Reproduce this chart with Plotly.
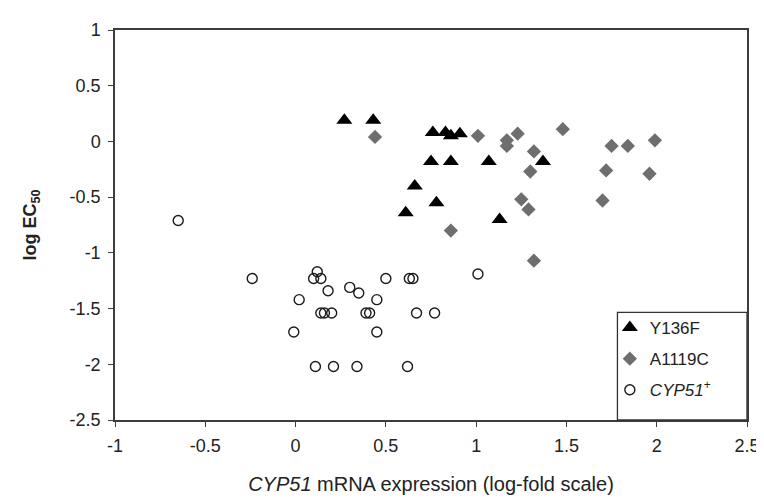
import plotly.graph_objects as go

# Y136F (black triangles)
y136f_x = [0.27, 0.43, 0.76, 0.83, 0.86, 0.91, 0.75, 0.86, 1.07, 1.37, 0.66, 0.78, 0.61, 1.13]
y136f_y = [0.19, 0.19, 0.08, 0.08, 0.05, 0.07, -0.18, -0.18, -0.18, -0.18, -0.40, -0.55, -0.64, -0.70]

# A1119C (grey diamonds)
a1119c_x = [0.44, 1.01, 1.17, 1.17, 1.23, 1.48, 1.32, 1.30, 1.75, 1.84, 1.99, 1.72, 1.96, 1.25, 1.29, 1.70, 0.86, 1.32]
a1119c_y = [0.04, 0.05, 0.01, -0.04, 0.07, 0.11, -0.09, -0.27, -0.04, -0.04, 0.01, -0.26, -0.29, -0.52, -0.61, -0.53, -0.80, -1.07]

# CYP51+ (open circles)
cyp_x = [-0.65, -0.24, 0.12, 0.10, 0.14, 0.18, 0.02, 0.30, 0.35, 0.50, 0.63, 0.65, 1.01, 0.45,
         0.14, 0.16, 0.20, 0.39, 0.41, 0.67, 0.77, -0.01, 0.45, 0.11, 0.21, 0.34, 0.62]
cyp_y = [-0.71, -1.23, -1.17, -1.23, -1.23, -1.34, -1.42, -1.31, -1.36, -1.23, -1.23, -1.23, -1.19, -1.42,
         -1.54, -1.54, -1.54, -1.54, -1.54, -1.54, -1.54, -1.71, -1.71, -2.02, -2.02, -2.02, -2.02]

x_ticks = [-1, -0.5, 0, 0.5, 1, 1.5, 2, 2.5]
y_ticks = [1, 0.5, 0, -0.5, -1, -1.5, -2, -2.5]

FONT = "Liberation Sans, Arial, sans-serif"
AX = "#3c3c3c"

fig = go.Figure()
fig.add_trace(go.Scatter(
    x=y136f_x, y=y136f_y, mode="markers", name="Y136F", legendgroup="a",
    marker=dict(symbol="triangle-up", size=14, color="black", line=dict(width=0))))
fig.add_trace(go.Scatter(
    x=a1119c_x, y=a1119c_y, mode="markers", name="A1119C", legendgroup="b",
    marker=dict(symbol="diamond", size=11, color="#6e6e6e", line=dict(width=0))))
fig.add_trace(go.Scatter(
    x=cyp_x, y=cyp_y, mode="markers", name="<i>CYP51</i><sup>+</sup>", legendgroup="c",
    marker=dict(symbol="circle-open", size=10, color="#1a1a1a", line=dict(width=1.4))))

axis_common = dict(
    showline=True, mirror=True, linecolor=AX, linewidth=1.5,
    ticks="outside", ticklen=5, tickcolor=AX, tickwidth=1,
    showgrid=False, zeroline=False,
    tickfont=dict(family=FONT, size=18, color="#222"),
)

fig.update_layout(
    width=764, height=502,
    margin=dict(l=107, r=14, t=17, b=90),
    paper_bgcolor="white", plot_bgcolor="white",
    font=dict(family=FONT, color="#222"),
    xaxis=dict(range=[-1, 2.5], tickvals=x_ticks, ticktext=[f"{v:g}" for v in x_ticks],
               ticklabelstandoff=4,
               title=dict(text="<i>CYP51</i> mRNA expression (log-fold scale)",
                          font=dict(family=FONT, size=20, color="#222"), standoff=22),
               **axis_common),
    yaxis=dict(range=[-2.5, 1], tickvals=y_ticks, ticktext=[f"{v:g}" for v in y_ticks],
               ticklabelstandoff=4,
               title=dict(text="<b>log EC<sub>50</sub></b>",
                          font=dict(family=FONT, size=18, color="#222"), standoff=28),
               **axis_common),
    showlegend=True,
    legend=dict(x=0.783, y=0.282, xanchor="left", yanchor="top",
                bgcolor="rgba(0,0,0,0)", borderwidth=0,
                traceorder="grouped", tracegroupgap=6,
                font=dict(family=FONT, size=17, color="#222")),
    shapes=[dict(type="rect", xref="paper", yref="paper", x0=0.795, x1=1, y0=0, y1=0.276,
                 line=dict(color="#333", width=1.3), fillcolor="rgba(0,0,0,0)")],
)

fig.write_html("out.html")
